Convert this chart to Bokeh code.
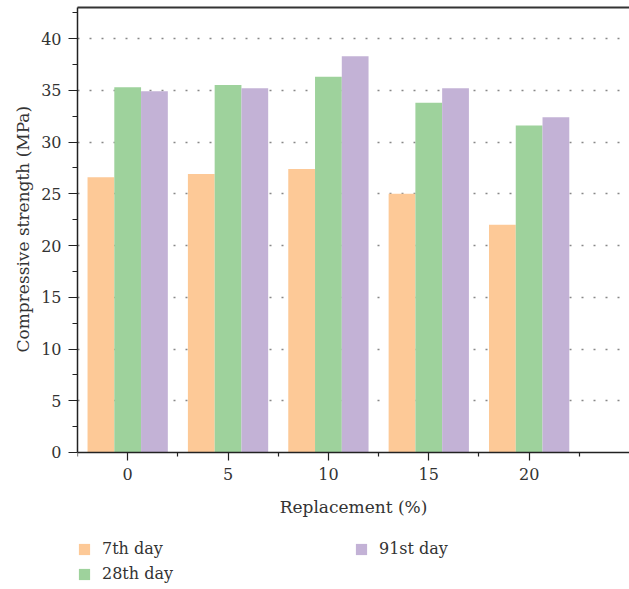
from bokeh.plotting import figure
from bokeh.models import (Range1d, FixedTicker, LinearAxis, Legend, LegendItem,
                          ColumnDataSource, Title)
from bokeh.transform import dodge
from bokeh.embed import file_html
from bokeh.resources import INLINE

replacement = [0, 5, 10, 15, 20]
day7 = [26.6, 26.9, 27.4, 25.0, 22.0]
day28 = [35.3, 35.5, 36.3, 33.8, 31.6]
day91 = [34.9, 35.2, 38.3, 35.2, 32.4]
labels = ["7th day", "28th day", "91st day"]
colors = ["#FDC997", "#9ED29C", "#C3B2D6"]

FONT = "DejaVu Serif"

src = ColumnDataSource(dict(x=replacement, d7=day7, d28=day28, d91=day91))

# frame extends to the bottom so the legend (drawn inside the frame) is visible
p = figure(width=629, height=589, output_backend="svg", toolbar_location=None,
           x_range=Range1d(-2.5, 25), y_range=Range1d(-13.24, 43),
           x_axis_location=None,
           min_border_left=77, min_border_right=0, min_border_top=7,
           min_border_bottom=0)
p.outline_line_color = None
p.xgrid.visible = False
p.ygrid.grid_line_color = "#888888"
p.ygrid.grid_line_dash = "2 10"
p.ygrid.grid_line_width = 1.5
p.ygrid.ticker = FixedTicker(ticks=[5, 10, 15, 20, 25, 30, 35, 40])

w = 4 / 3
r1 = p.vbar(x=dodge("x", -w, range=p.x_range), top="d7", width=w, source=src,
            fill_color=colors[0], line_color=None)
r2 = p.vbar(x=dodge("x", 0, range=p.x_range), top="d28", width=w, source=src,
            fill_color=colors[1], line_color=None)
r3 = p.vbar(x=dodge("x", w, range=p.x_range), top="d91", width=w, source=src,
            fill_color=colors[2], line_color=None)

xaxis = LinearAxis(fixed_location=0)
p.add_layout(xaxis, "below")

for ax in (xaxis, p.yaxis[0]):
    ax.axis_line_color = "#222222"
    ax.axis_line_width = 1.5
    ax.major_tick_line_color = "#222222"
    ax.minor_tick_line_color = "#222222"
    ax.major_tick_line_width = 1.2
    ax.minor_tick_line_width = 1.2
    ax.major_tick_in = 0
    ax.minor_tick_in = 0
    ax.major_label_text_font = FONT
    ax.major_label_text_font_size = "16px"
    ax.major_label_text_color = "#333333"
    ax.axis_label_text_font = FONT
    ax.axis_label_text_font_size = "17px"
    ax.axis_label_text_font_style = "normal"
    ax.axis_label_text_color = "#333333"

xaxis.ticker = FixedTicker(ticks=replacement,
                           minor_ticks=[-2.5, 2.5, 7.5, 12.5, 17.5, 22.5])
xaxis.axis_label = "Replacement (%)"
xaxis.major_tick_out = 8
xaxis.minor_tick_out = 4
xaxis.major_label_standoff = 8
xaxis.axis_label_standoff = 13

yaxis = p.yaxis[0]
yaxis.bounds = (0, 43)
yaxis.ticker = FixedTicker(ticks=[0, 5, 10, 15, 20, 25, 30, 35, 40],
                           minor_ticks=[2.5, 7.5, 12.5, 17.5, 22.5, 27.5, 32.5, 37.5, 42.5])
yaxis.major_tick_out = 9
yaxis.minor_tick_out = 5
yaxis.major_label_standoff = 7

ytitle = Title(text="Compressive strength (MPa)", align="left", offset=237,
               vertical_align="top",
               text_font=FONT, text_font_size="17px", text_font_style="normal",
               text_color="#333333", standoff=8)
p.add_layout(ytitle, "left")

top = LinearAxis(ticker=FixedTicker(ticks=[]), axis_line_color="#333333",
                 axis_line_width=2, major_label_text_font_size="0px",
                 major_tick_line_color=None, minor_tick_line_color=None)
p.add_layout(top, "above")

legend = Legend(items=[LegendItem(label=labels[0], renderers=[r1]),
                       LegendItem(label=labels[1], renderers=[r2]),
                       LegendItem(label=labels[2], renderers=[r3])],
                orientation="vertical", nrows=2, location=(0, 6),
                glyph_width=14, glyph_height=14, label_standoff=11,
                label_width=246, spacing=6, padding=0, margin=0,
                border_line_color=None, background_fill_alpha=0,
                label_text_font=FONT, label_text_font_size="16px",
                label_text_color="#333333")
p.add_layout(legend, "center")

open("out.html", "w").write(file_html(p, INLINE))
